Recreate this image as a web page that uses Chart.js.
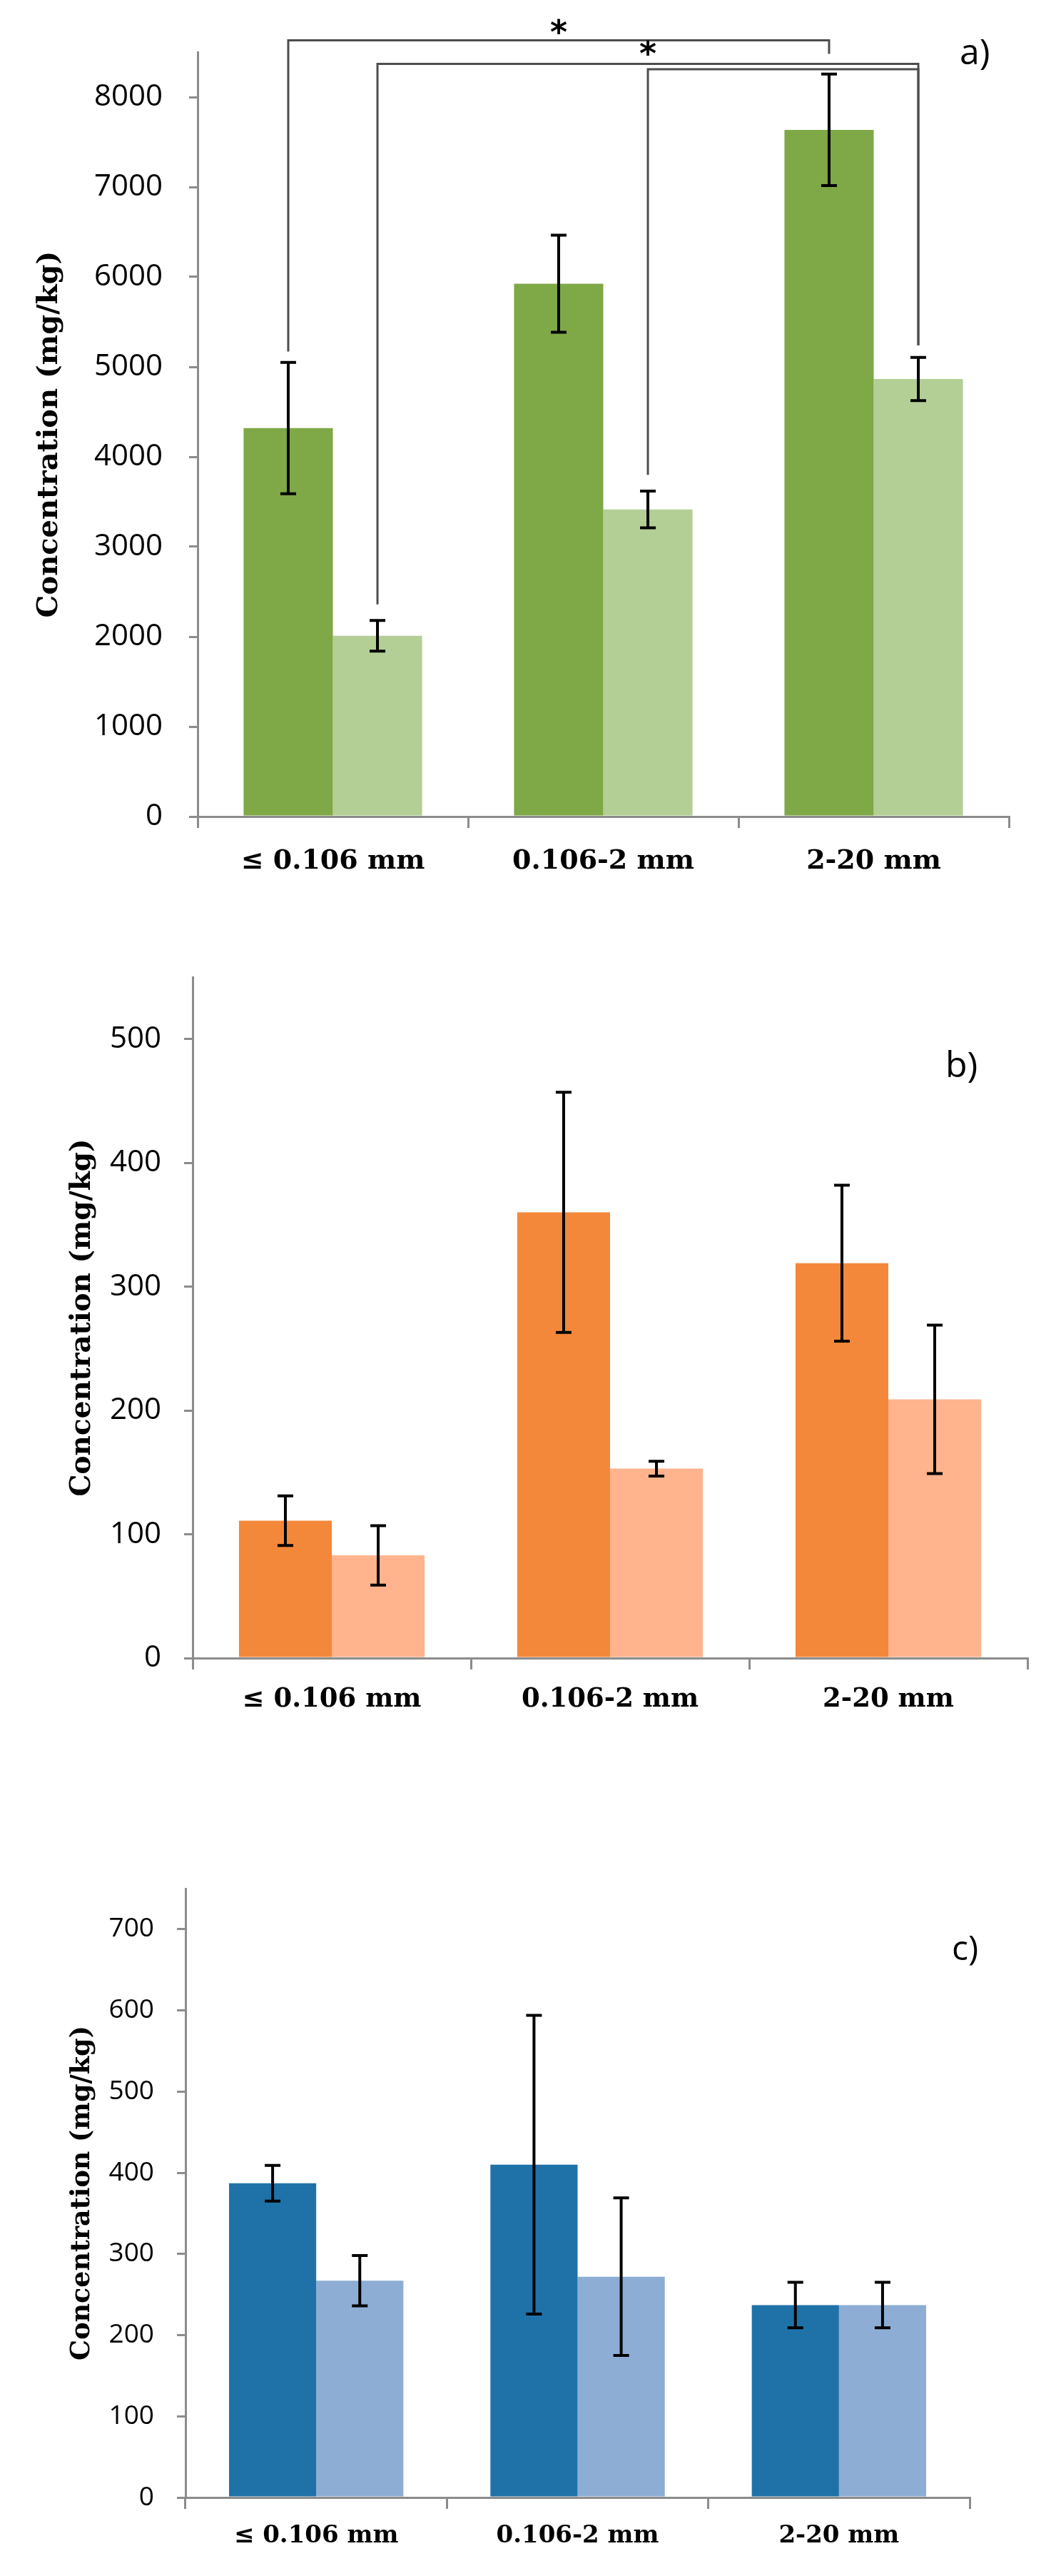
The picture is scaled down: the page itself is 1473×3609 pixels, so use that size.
<!DOCTYPE html>
<html>
<head>
<meta charset="utf-8">
<script src="https://cdn.jsdelivr.net/npm/chart.js@4.4.1/dist/chart.umd.min.js"></script>
<style>
    html, body { margin: 0; padding: 0; background: #ffffff; }
    canvas { display: block; }
</style>
</head>
<body>
<canvas id="chartA" width="1473" height="1260"></canvas>
<canvas id="chartB" width="1473" height="1160"></canvas>
<canvas id="chartC" width="1473" height="1189"></canvas>
<script>
// Size fractions on the x axis
const categories = ['≤ 0.106 mm', '0.106-2 mm', '2-20 mm'];

// Panel a)
const aDark = [4320, 5925, 7635];
const aDarkErr = [730, 540, 620];
const aLight = [2010, 3415, 4865];
const aLightErr = [170, 205, 240];
const aTicks = [0, 1000, 2000, 3000, 4000, 5000, 6000, 7000, 8000];

// Panel b)
const bDark = [111, 360, 319];
const bDarkErr = [20, 97, 63];
const bLight = [83, 153, 209];
const bLightErr = [24, 6, 60];
const bTicks = [0, 100, 200, 300, 400, 500];

// Panel c)
const cDark = [387, 410, 237];
const cDarkErr = [22, 184, 28];
const cLight = [267, 272, 237];
const cLightErr = [31, 97, 28];
const cTicks = [0, 100, 200, 300, 400, 500, 600, 700];

// Significance brackets in panel a): [dataset, category] ends, heights in mg/kg
const aBrackets = [
    { from: [0, 0], to: [0, 2], fromY: 5170, topY: 8630, toY: 8480, star: 8760 },
    { from: [1, 0], to: [1, 2], fromY: 2360, topY: 8370, toY: 5240, star: 8520 },
    { from: [1, 1], to: [1, 2], fromY: 3800, topY: 8310, toY: 5240, star: null }
];

const AXIS_GREY = '#8c8c8c';

const errorBarPlugin = {
    id: 'errorBars',
    afterDatasetsDraw(chart) {
        const { ctx } = chart;
        const y = chart.scales.y;
        ctx.save();
        ctx.strokeStyle = '#000000';
        ctx.lineWidth = 4;
        chart.data.datasets.forEach((ds, di) => {
            const meta = chart.getDatasetMeta(di);
            meta.data.forEach((bar, i) => {
                const v = ds.data[i];
                const e = ds.errors[i];
                const yHi = y.getPixelForValue(v + e);
                const yLo = y.getPixelForValue(v - e);
                ctx.beginPath();
                ctx.moveTo(bar.x, yHi);
                ctx.lineTo(bar.x, yLo);
                ctx.moveTo(bar.x - 11, yHi);
                ctx.lineTo(bar.x + 11, yHi);
                ctx.moveTo(bar.x - 11, yLo);
                ctx.lineTo(bar.x + 11, yLo);
                ctx.stroke();
            });
        });
        ctx.restore();
    }
};

const bracketPlugin = {
    id: 'brackets',
    afterDatasetsDraw(chart, args, opts) {
        if (!opts.items || !opts.items.length) return;
        const { ctx } = chart;
        const y = chart.scales.y;
        ctx.save();
        ctx.strokeStyle = '#4d4d4d';
        ctx.lineWidth = 3;
        opts.items.forEach(b => {
            const x1 = chart.getDatasetMeta(b.from[0]).data[b.from[1]].x;
            const x2 = chart.getDatasetMeta(b.to[0]).data[b.to[1]].x;
            const yTop = y.getPixelForValue(b.topY);
            ctx.beginPath();
            ctx.moveTo(x1, y.getPixelForValue(b.fromY));
            ctx.lineTo(x1, yTop);
            ctx.lineTo(x2, yTop);
            ctx.lineTo(x2, y.getPixelForValue(b.toY));
            ctx.stroke();
            if (b.star !== null) {
                ctx.fillStyle = '#000000';
                ctx.font = 'bold 46px "DejaVu Sans"';
                ctx.textAlign = 'center';
                ctx.textBaseline = 'middle';
                ctx.fillText('*', (x1 + x2) / 2, y.getPixelForValue(b.star) + 9);
            }
        });
        ctx.restore();
    }
};

const panelLabelPlugin = {
    id: 'panelLabel',
    afterDraw(chart, args, opts) {
        if (!opts.text) return;
        const { ctx } = chart;
        ctx.save();
        ctx.fillStyle = '#000000';
        ctx.font = opts.size + 'px "Open Sans"';
        ctx.textAlign = 'left';
        ctx.textBaseline = 'middle';
        ctx.fillText(opts.text, opts.x, opts.y);
        ctx.restore();
    }
};

function makePanel(canvasId, p) {
    const ctx = document.getElementById(canvasId);
    return new Chart(ctx, {
        type: 'bar',
        data: {
            labels: categories,
            datasets: [
                { label: 'Series 1', data: p.dark, errors: p.darkErr, backgroundColor: p.colors[0], borderWidth: 0 },
                { label: 'Series 2', data: p.light, errors: p.lightErr, backgroundColor: p.colors[1], borderWidth: 0 }
            ]
        },
        options: {
            responsive: false,
            animation: false,
            categoryPercentage: p.catPct,
            barPercentage: 1.0,
            layout: { padding: { top: p.top, right: p.right, left: 0, bottom: 0 } },
            plugins: {
                legend: { display: false },
                tooltip: { enabled: false },
                brackets: { items: p.brackets || [] },
                panelLabel: p.label
            },
            scales: {
                x: {
                    afterFit: s => { s.height = p.xHeight; },
                    ticks: {
                        font: { family: 'DejaVu Serif', weight: 'bold', size: p.xFont },
                        color: '#000000',
                        padding: p.xPad,
                        maxRotation: 0,
                        minRotation: 0,
                        autoSkip: false
                    },
                    grid: {
                        offset: true,
                        drawOnChartArea: false,
                        drawTicks: true,
                        tickLength: 16,
                        color: AXIS_GREY,
                        lineWidth: 3
                    },
                    border: { color: AXIS_GREY, width: 3 }
                },
                y: {
                    min: 0,
                    max: p.yMax,
                    afterFit: s => { s.width = p.left; },
                    afterBuildTicks: s => { s.ticks = p.ticks.map(v => ({ value: v })); },
                    ticks: {
                        font: { family: 'Open Sans', size: p.tickFont },
                        color: '#000000',
                        padding: p.yPad,
                        callback: v => String(v)
                    },
                    grid: {
                        drawOnChartArea: false,
                        drawTicks: true,
                        tickLength: 12,
                        color: AXIS_GREY,
                        lineWidth: 3
                    },
                    border: { color: AXIS_GREY, width: 3 },
                    title: {
                        display: true,
                        text: 'Concentration (mg/kg)',
                        color: '#000000',
                        font: { family: 'DejaVu Serif', weight: 'bold', size: p.titleFont, lineHeight: 1.2 },
                        padding: { top: p.titlePad, bottom: 0 }
                    }
                }
            }
        },
        plugins: [errorBarPlugin, bracketPlugin, panelLabelPlugin]
    });
}

makePanel('chartA', {
    dark: aDark, darkErr: aDarkErr, light: aLight, lightErr: aLightErr,
    colors: ['#7fa846', '#b3cf96'],
    ticks: aTicks, yMax: 8500, catPct: 0.66,
    top: 73, right: 59, left: 277, xHeight: 116,
    tickFont: 42, yPad: 37, xFont: 38, xPad: 24, titleFont: 40, titlePad: 46,
    brackets: aBrackets,
    label: { text: 'a)', x: 1345, y: 76, size: 50 }
});

makePanel('chartB', {
    dark: bDark, darkErr: bDarkErr, light: bLight, lightErr: bLightErr,
    colors: ['#f4883a', '#ffb48d'],
    ticks: bTicks, yMax: 550, catPct: 0.667,
    top: 109, right: 33, left: 270, xHeight: 97,
    tickFont: 42, yPad: 32, xFont: 37, xPad: 20, titleFont: 39, titlePad: 92,
    label: { text: 'b)', x: 1325, y: 235, size: 50 }
});

makePanel('chartC', {
    dark: cDark, darkErr: cDarkErr, light: cLight, lightErr: cLightErr,
    colors: ['#1f72a8', '#8dadd4'],
    ticks: cTicks, yMax: 750, catPct: 0.667,
    top: 226, right: 114, left: 260, xHeight: 110,
    tickFont: 37, yPad: 32, xFont: 34, xPad: 18, titleFont: 36.5, titlePad: 94,
    label: { text: 'c)', x: 1334, y: 312, size: 48 }
});
</script>
</body>
</html>
